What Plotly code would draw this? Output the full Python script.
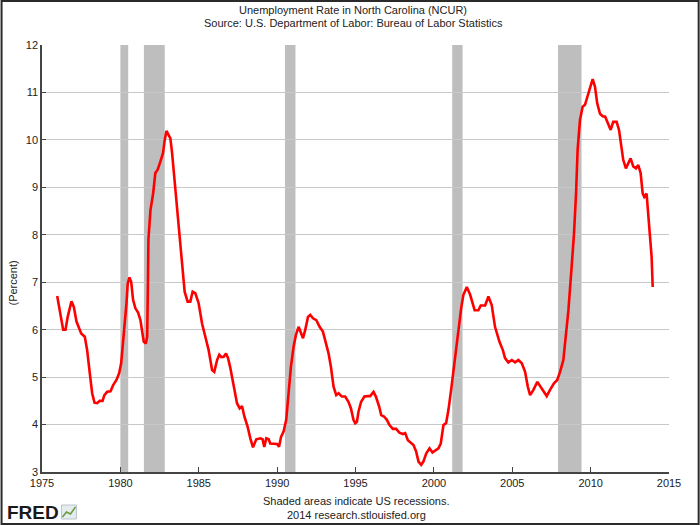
import plotly.graph_objects as go

years = [1975.97, 1976.22, 1976.35, 1976.50, 1976.64, 1976.88, 1977.03, 1977.20, 1977.35, 1977.50,
         1977.73, 1977.88, 1978.05, 1978.20, 1978.35, 1978.52, 1978.68, 1978.86, 1978.98, 1979.16,
         1979.37, 1979.54, 1979.75, 1979.92, 1980.05, 1980.15, 1980.26, 1980.39, 1980.47, 1980.58,
         1980.69, 1980.81, 1980.96, 1981.13, 1981.28, 1981.39, 1981.49, 1981.62, 1981.71, 1981.75,
         1981.79, 1981.92, 1982.09, 1982.23, 1982.38, 1982.55, 1982.72, 1982.83, 1982.94, 1983.08,
         1983.19, 1983.30, 1983.51, 1983.72, 1983.83, 1983.94, 1984.10, 1984.29, 1984.46, 1984.61,
         1984.78, 1984.99, 1985.21, 1985.42, 1985.63, 1985.85, 1985.99, 1986.17, 1986.31, 1986.44,
         1986.59, 1986.74, 1986.87, 1987.01, 1987.22, 1987.44, 1987.61, 1987.76, 1987.91, 1988.12,
         1988.29, 1988.46, 1988.67, 1988.93, 1989.07, 1989.18, 1989.31, 1989.46, 1989.56, 1989.77,
         1989.99, 1990.12, 1990.25, 1990.41, 1990.58, 1990.73, 1990.88, 1991.05, 1991.20, 1991.37,
         1991.52, 1991.65, 1991.79, 1991.97, 1992.11, 1992.29, 1992.50, 1992.71, 1992.92, 1993.07,
         1993.28, 1993.43, 1993.60, 1993.77, 1993.92, 1994.13, 1994.34, 1994.55, 1994.71, 1994.87,
         1994.98, 1995.09, 1995.19, 1995.36, 1995.57, 1995.77, 1995.94, 1996.15, 1996.30, 1996.51,
         1996.64, 1996.82, 1997.00, 1997.17, 1997.38, 1997.59, 1997.80, 1998.02, 1998.17, 1998.34,
         1998.55, 1998.70, 1998.87, 1999.02, 1999.19, 1999.33, 1999.51, 1999.72, 1999.91, 2000.12,
         2000.29, 2000.44, 2000.61, 2000.78, 2000.93, 2001.10, 2001.25, 2001.42, 2001.59, 2001.74,
         2001.88, 2002.10, 2002.31, 2002.60, 2002.84, 2002.99, 2003.27, 2003.48, 2003.69, 2003.90,
         2004.18, 2004.40, 2004.54, 2004.75, 2004.97, 2005.18, 2005.39, 2005.61, 2005.82, 2005.99,
         2006.14, 2006.35, 2006.60, 2006.88, 2007.20, 2007.41, 2007.66, 2007.87, 2008.05, 2008.26,
         2008.43, 2008.58, 2008.79, 2008.94, 2009.07, 2009.17, 2009.32, 2009.49, 2009.64, 2009.79,
         2009.96, 2010.13, 2010.28, 2010.42, 2010.60, 2010.77, 2010.93, 2011.11, 2011.28, 2011.44,
         2011.66, 2011.81, 2011.93, 2012.08, 2012.25, 2012.40, 2012.55, 2012.72, 2012.89, 2013.04,
         2013.19, 2013.32, 2013.42, 2013.57, 2013.67, 2013.78, 2013.89, 2013.96]

rates = [6.71, 6.27, 6.00, 6.00, 6.27, 6.60, 6.48, 6.17, 6.03, 5.92,
         5.85, 5.57, 5.08, 4.66, 4.46, 4.45, 4.50, 4.50, 4.62, 4.69,
         4.70, 4.83, 4.94, 5.08, 5.29, 5.64, 6.13, 6.56, 6.98, 7.10,
         7.01, 6.63, 6.45, 6.36, 6.20, 5.99, 5.75, 5.71, 5.85, 6.80,
         7.90, 8.52, 8.87, 9.30, 9.37, 9.54, 9.72, 10.00, 10.19, 10.10,
         10.03, 9.72, 8.94, 8.17, 7.89, 7.47, 6.80, 6.59, 6.59, 6.80,
         6.77, 6.56, 6.13, 5.85, 5.57, 5.15, 5.11, 5.36, 5.47, 5.42,
         5.43, 5.50, 5.40, 5.20, 4.87, 4.45, 4.34, 4.39, 4.17, 3.95,
         3.71, 3.52, 3.69, 3.71, 3.69, 3.53, 3.71, 3.69, 3.60, 3.60,
         3.59, 3.53, 3.74, 3.85, 4.10, 4.66, 5.22, 5.64, 5.89, 6.06,
         5.92, 5.82, 5.99, 6.27, 6.31, 6.24, 6.20, 6.06, 5.96, 5.78,
         5.50, 5.22, 4.80, 4.62, 4.66, 4.59, 4.59, 4.48, 4.34, 4.10,
         4.03, 4.06, 4.27, 4.48, 4.59, 4.60, 4.60, 4.69, 4.59, 4.38,
         4.20, 4.17, 4.10, 3.99, 3.91, 3.91, 3.83, 3.80, 3.82, 3.67,
         3.60, 3.57, 3.43, 3.22, 3.15, 3.22, 3.39, 3.50, 3.41, 3.45,
         3.50, 3.60, 3.99, 4.03, 4.31, 4.73, 5.15, 5.64, 6.06, 6.45,
         6.73, 6.90, 6.74, 6.41, 6.41, 6.51, 6.51, 6.70, 6.52, 6.06,
         5.75, 5.57, 5.40, 5.31, 5.36, 5.31, 5.36, 5.29, 5.11, 4.80,
         4.62, 4.73, 4.90, 4.76, 4.60, 4.73, 4.87, 4.94, 5.11, 5.36,
         5.85, 6.40, 7.33, 8.03, 8.87, 9.79, 10.42, 10.70, 10.74, 10.91,
         11.12, 11.28, 11.12, 10.77, 10.55, 10.50, 10.49, 10.35, 10.21, 10.38,
         10.38, 10.21, 9.93, 9.58, 9.40, 9.51, 9.61, 9.44, 9.40, 9.47,
         9.30, 8.87, 8.80, 8.87, 8.45, 8.03, 7.54, 6.90]

recession_start = [1980.00, 1981.50, 1990.50, 2001.17, 2007.92]
recession_end = [1980.50, 1982.83, 1991.17, 2001.83, 2009.42]

x_ticks = [1975, 1980, 1985, 1990, 1995, 2000, 2005, 2010, 2015]
y_ticks = [3, 4, 5, 6, 7, 8, 9, 10, 11, 12]

FONT = "Liberation Sans, Arial, sans-serif"

fig = go.Figure()
fig.add_trace(go.Scatter(x=years, y=rates, mode="lines",
                         line=dict(color="#ff0000", width=2.6),
                         hoverinfo="x+y", showlegend=False))

shapes = []
for s, e in zip(recession_start, recession_end):
    shapes.append(dict(type="rect", xref="x", yref="paper", x0=s, x1=e, y0=0, y1=1,
                       fillcolor="#bebebe", line=dict(width=0), layer="between"))

# outer border of the image
L, R, T, B = 41.5, 30.7, 45, 53
pw, ph = 700 - L - R, 525 - T - B
shapes.append(dict(type="rect", xref="paper", yref="paper",
                   x0=(1 - L) / pw, x1=(699 - L) / pw,
                   y0=(T + ph - 524) / ph, y1=(T + ph - 1) / ph,
                   line=dict(color="#2a2a2a", width=2), fillcolor="rgba(0,0,0,0)", layer="above"))

annotations = [
    dict(text="Unemployment Rate in North Carolina (NCUR)", xref="paper", yref="paper",
         x=(353 - L) / pw, y=(T + ph - 10) / ph, showarrow=False,
         font=dict(family=FONT, size=11, color="#222"), xanchor="center", yanchor="middle"),
    dict(text="Source: U.S. Department of Labor: Bureau of Labor Statistics", xref="paper", yref="paper",
         x=(353 - L) / pw, y=(T + ph - 23) / ph, showarrow=False,
         font=dict(family=FONT, size=11, color="#222"), xanchor="center", yanchor="middle"),
    dict(text="(Percent)", xref="paper", yref="paper", x=(12 - L) / pw, y=(T + ph - 283) / ph,
         textangle=-90, showarrow=False, font=dict(family=FONT, size=11, color="#222"),
         xanchor="center", yanchor="middle"),
    dict(text="Shaded areas indicate US recessions.", xref="paper", yref="paper",
         x=(356 - L) / pw, y=(T + ph - 501) / ph, showarrow=False,
         font=dict(family=FONT, size=11, color="#222"), xanchor="center", yanchor="middle"),
    dict(text="2014 research.stlouisfed.org", xref="paper", yref="paper",
         x=(356 - L) / pw, y=(T + ph - 515) / ph, showarrow=False,
         font=dict(family=FONT, size=11, color="#222"), xanchor="center", yanchor="middle"),
    dict(text="<b>FRED</b>", xref="paper", yref="paper",
         x=(4 - L) / pw, y=(T + ph - 512) / ph, showarrow=False,
         font=dict(family=FONT, size=19, color="#1a1a1a"), xanchor="left", yanchor="middle"),
]

# small chart icon next to the FRED logo
shapes.append(dict(type="rect", xref="paper", yref="paper",
                   x0=(61 - L) / pw, x1=(76 - L) / pw,
                   y0=(T + ph - 519) / ph, y1=(T + ph - 505) / ph,
                   line=dict(color="#b8c4cc", width=1), fillcolor="#e4ecf0", layer="above"))
shapes.append(dict(type="path", xref="paper", yref="paper",
                   path="M {} {} L {} {} L {} {} L {} {}".format(
                       (62 - L) / pw, (T + ph - 517) / ph, (66 - L) / pw, (T + ph - 512) / ph,
                       (70 - L) / pw, (T + ph - 514) / ph, (75 - L) / pw, (T + ph - 507) / ph),
                   line=dict(color="#6a9a3a", width=1.5), layer="above"))

fig.update_layout(
    width=700, height=525,
    margin=dict(l=L, r=R, t=T, b=B, pad=0),
    paper_bgcolor="white", plot_bgcolor="white",
    font=dict(family=FONT, size=11, color="#222"),
    shapes=shapes, annotations=annotations,
    xaxis=dict(range=[1975, 2015], tickvals=x_ticks, ticktext=[str(t) for t in x_ticks],
               showgrid=False, zeroline=False, showline=True, linecolor="#444", linewidth=1.5,
               ticks="inside", ticklen=5, tickcolor="#444", tickfont=dict(size=11, color="#222")),
    yaxis=dict(range=[3, 12], tickvals=y_ticks, ticktext=[str(t) for t in y_ticks],
               showgrid=True, gridcolor="#c8c8c8", gridwidth=1, zeroline=False,
               showline=True, linecolor="#444", linewidth=1.5,
               ticks="inside", ticklen=4, tickcolor="#444", tickfont=dict(size=11, color="#222")),
)

fig.write_html("out.html")
